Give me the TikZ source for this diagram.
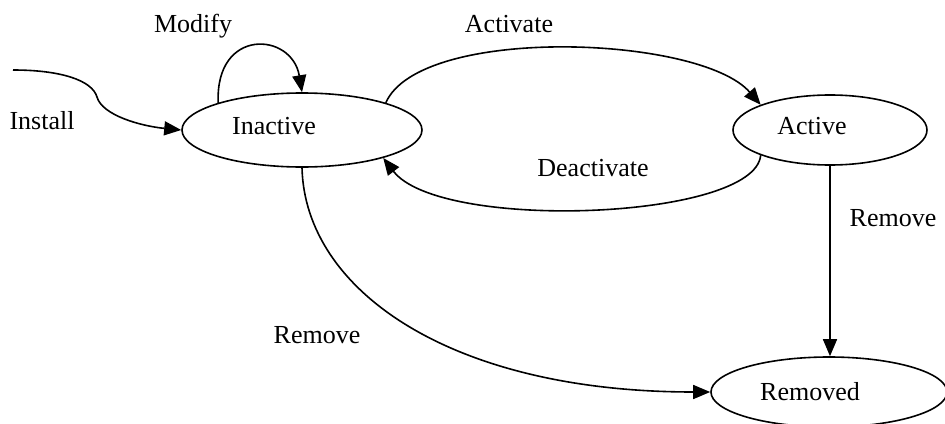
\documentclass[tikz,border=0pt]{standalone}
\usepackage{fontspec}
\setmainfont{Liberation Serif}
\usetikzlibrary{arrows.meta,shapes.geometric}

\begin{document}
\begin{tikzpicture}[x=1pt, y=-1pt, font=\fontsize{26}{30}\selectfont,
        state/.style={draw, ellipse, line width=1.6pt, inner sep=0pt},
        trans/.style={line width=1.6pt, -{Triangle[length=17pt, width=14pt]}}]
    \useasboundingbox (0,0) rectangle (945,423);

    \node[state, minimum width=240pt, minimum height=74pt, label={[xshift=-28pt, yshift=4pt]center:Inactive}] (inactive) at (302,130) {};
    \node[state, minimum width=194pt, minimum height=70pt, label={[xshift=-18pt, yshift=4pt]center:Active}] (active) at (830,130) {};
    \node[state, minimum width=236pt, minimum height=70pt, label={[xshift=-19pt]center:Removed}] (removed) at (829,392) {};
    \coordinate (install) at (13,70);

    \draw[trans] (install) .. controls (60,70) and (92,80) .. (97,97) .. controls (102,115) and (140,126) .. (inactive.west);
    \draw[trans] (inactive.162) .. controls (215,27) and (292,32) .. (inactive.north);
    \draw[trans] (inactive.18) .. controls (420,25) and (700,35) .. (active.160);
    \draw[trans] (active.200) .. controls (755,220) and (440,232) .. (inactive.341);
    \draw[trans] (active.south) -- (active.south |- removed.north);
    \draw[trans] (inactive.south) .. controls (305,290) and (450,392) .. (removed.west);

    \node[anchor=base] (install label) at (42,129) {Install};
    \node[anchor=base] (modify label) at (193,32) {Modify};
    \node[anchor=base] (activate label) at (509,32) {Activate};
    \node[anchor=base] (deactivate label) at (593,176) {Deactivate};
    \node[anchor=base] (remove label) at (893,226) {Remove};
    \node[anchor=base] (remove all label) at (317,343) {Remove};
\end{tikzpicture}
\end{document}
